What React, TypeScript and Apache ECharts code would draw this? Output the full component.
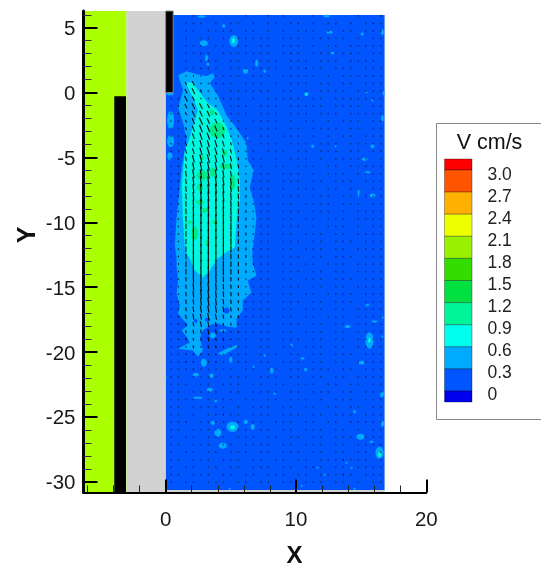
import React, { useEffect, useRef } from "react";
import * as echarts from "echarts";

// ---- axes
const X_MIN = -6.3, X_MAX = 20, Y_MIN = -30.83, Y_MAX = 6.29;
const xMajor = [0, 10, 20];
const xMinor = [-6, -4, -2, 2, 4, 6, 8, 12, 14, 16, 18];
const yMajor = [5, 0, -5, -10, -15, -20, -25, -30];
const yMinor = [6, 4, 3, 2, 1, -1, -2, -3, -4, -6, -7, -8, -9, -11, -12, -13, -14, -16, -17, -18, -19, -21, -22, -23, -24, -26, -27, -28, -29];

// ---- legend
const legendLevels = ["3.0", "2.7", "2.4", "2.1", "1.8", "1.5", "1.2", "0.9", "0.6", "0.3", "0"];
const legendColors = ["#ff0000", "#ff5500", "#ffb000", "#eeff00", "#99f000", "#33dd00", "#00e040", "#00f598", "#00ffee", "#00aaff", "#0055ff", "#0000ee"];

// ---- field regions [x0, x1, y0, y1, colour]
const FIELD: [number, number, number, number, string] = [0, 16.8, -30.63, 5.98, "#0055ff"];
const walls: [number, number, number, number, string, string][] = [
  [-6.3, -3.0, -30.83, 6.29, "#aaff00", "none"],
  [-3.0, 0, -30.83, 6.29, "#d2d2d2", "none"],
  [-3.0, 16.8, -30.83, -30.63, "#d2d2d2", "none"],
  [-3.94, -3.04, -30.83, -0.28, "#000000", "none"],
  [0, 0.58, 0, 6.29, "#000000", "#8a8a8a"],
];

// ---- contour bands (x, y)
const band06: number[][] = [
  [0.96, 1.34], [1.61, 1.65], [2.37, 1.42], [3.14, 1.27], [3.62, 1.5], [3.77, 1.19], [3.39, 0.73], [4.0, -0.2], [4.67, -1.75],
  [5.44, -2.75], [6.2, -3.91], [6.3, -5.22], [6.76, -5.99], [6.45, -7.3], [6.76, -8.31], [6.97, -9.62], [6.84, -10.86], [6.66, -12.17],
  [6.68, -13.17], [6.97, -14.1], [6.3, -14.49], [6.58, -15.41], [5.92, -16.03], [5.92, -16.8], [5.44, -17.42], [5.44, -18.12], [4.67, -18.04],
  [4.0, -17.81], [3.52, -17.88], [2.86, -18.35], [2.63, -18.96], [2.86, -19.89], [2.47, -20.35], [2.09, -19.89], [0.94, -19.74], [1.86, -19.27],
  [1.61, -18.81], [1.23, -18.35], [1.71, -17.96], [0.96, -17.03], [1.09, -16.4], [0.84, -15.49], [0.96, -14.49], [0.84, -13.48], [0.84, -12.71],
  [0.71, -11.78], [0.84, -9.62], [1.04, -7.77], [1.23, -5.76], [1.61, -3.68], [1.35, -2.36], [0.96, -1.13], [1.35, 0.19],
];
const streak06: number[][] = [[4.0, -20.11], [4.67, -19.74], [5.54, -19.43], [5.46, -19.66], [4.77, -20.04], [4.39, -20.27]];
const band09: number[][] = [
  [1.61, 0.8], [2.11, 0.73], [2.76, -0.2], [3.24, -0.82], [4.0, -1.36], [4.69, -2.67], [5.08, -3.68], [5.46, -5.22], [5.69, -6.76],
  [5.69, -8.31], [5.46, -9.62], [5.31, -11.94], [4.62, -12.32], [4.0, -12.79], [3.39, -13.72], [2.86, -14.26], [2.24, -13.72], [1.86, -12.79],
  [1.48, -12.17], [1.48, -11.94], [1.32, -9.62], [1.25, -7.0], [1.48, -4.45], [1.71, -3.91], [2.09, -2.67], [2.47, -1.36], [2.09, -0.36], [1.63, 0.57],
];
const contours: [number[][], string][] = [[band06, "#00aaff"], [streak06, "#00aaff"], [band09, "#00f8e0"]];

// ---- small closed contours [x, y, rx, ry]
const blobs06: number[][] = [
  [5.23, 3.97, 0.34, 0.46], [2.93, 3.81, 0.3, 0.23], [4.46, 5.14, 0.12, 0.12], [3.14, 2.66, 0.12, 0.25], [3.24, 2.19, 0.12, 0.12],
  [6.99, 2.27, 0.12, 0.27], [6.13, 1.65, 0.2, 0.2], [7.6, 1.65, 0.12, 0.12], [6.3, -3.52, 0.08, 0.08], [0.38, -2.13, 0.27, 0.7],
  [0.38, -3.75, 0.27, 0.46], [0.33, -4.91, 0.2, 0.31], [0.35, -0.12, 0.3, 0.08], [10.8, -0.12, 0.16, 0.16], [12.58, 4.66, 0.25, 0.1],
  [15.08, 4.51, 0.12, 0.12], [16.64, 4.66, 0.1, 0.23], [16.64, -1.98, 0.1, 0.25], [15.87, -4.14, 0.15, 0.15], [11.28, -4.14, 0.12, 0.12],
  [13.04, -4.14, 0.08, 0.08], [15.26, -5.14, 0.23, 0.12], [15.49, -6.15, 0.23, 0.08], [14.8, -7.69, 0.07, 0.38], [15.87, -7.93, 0.23, 0.15],
  [2.76, 5.86, 0.3, 0.1], [12.35, 5.9, 0.25, 0.1], [12.81, 3.04, 0.16, 0.08], [16.72, -0.05, 0.08, 0.15], [15.41, 0.03, 0.08, 0.08],
  [15.87, -0.59, 0.08, 0.08], [5.0, -20.59, 0.12, 0.23], [2.93, -20.82, 0.23, 0.31], [2.32, -21.74, 0.23, 0.15], [3.52, -21.82, 0.16, 0.16],
  [3.39, -22.9, 0.23, 0.15], [2.47, -23.52, 0.38, 0.08], [3.85, -23.75, 0.12, 0.12], [3.62, -25.45, 0.16, 0.16], [5.13, -25.77, 0.46, 0.39],
  [6.15, -25.38, 0.16, 0.16], [6.68, -25.77, 0.16, 0.23], [4.0, -26.22, 0.27, 0.31], [4.39, -27.22, 0.31, 0.23], [15.64, -19.12, 0.31, 0.62],
  [15.03, -20.82, 0.23, 0.15], [13.96, -18.04, 0.23, 0.12], [15.49, -16.4, 0.16, 0.08], [16.03, -17.65, 0.23, 0.08], [16.64, -17.34, 0.08, 0.08],
  [16.64, -18.81, 0.08, 0.08], [10.74, -21.36, 0.12, 0.12], [8.14, -21.44, 0.12, 0.23], [7.6, -20.28, 0.08, 0.08], [9.67, -19.5, 0.08, 0.15],
  [10.51, -20.5, 0.16, 0.08], [16.6, -23.28, 0.15, 0.23], [14.5, -24.6, 0.12, 0.12], [16.64, -25.53, 0.12, 0.23], [14.95, -26.53, 0.31, 0.23],
  [15.8, -26.92, 0.16, 0.08], [16.41, -27.77, 0.31, 0.46], [13.88, -28.54, 0.08, 0.08], [11.66, -28.93, 0.08, 0.08], [14.27, -28.93, 0.08, 0.08],
  [12.2, -29.46, 0.08, 0.08], [14.5, -30.55, 0.08, 0.08], [10.44, -30.31, 0.08, 0.08], [8.37, -23.21, 0.08, 0.08], [3.62, -18.73, 0.23, 0.23],
  [4.39, -18.35, 0.3, 0.08], [6.76, -21.13, 0.08, 0.08], [0.03, -21.97, 0.08, 0.08], [4.92, -30.55, 0.08, 0.08],
];
const holes03: number[][] = [[4.67, -16.8, 0.24, 0.24], [3.2, -17.5, 0.2, 0.15], [2.3, -17.6, 0.14, 0.14]];
const blobs09: number[][] = [[10.8, -0.12, 0.08, 0.08], [5.2, 4.0, 0.12, 0.2], [15.64, -19.1, 0.1, 0.2], [5.13, -25.8, 0.2, 0.15], [16.41, -27.9, 0.12, 0.2]];
const blobs12: number[][] = [
  [3.97, -2.9, 0.58, 0.6], [3.55, -1.51, 0.2, 0.25], [4.54, -4.66, 0.2, 0.25], [2.78, -4.99, 0.15, 0.2], [2.82, -6.38, 0.45, 0.38],
  [2.63, -7.3, 0.25, 0.3], [4.62, -5.68, 0.5, 0.2], [3.62, -6.15, 0.2, 0.4], [5.15, -6.92, 0.22, 0.6], [2.63, -8.46, 0.3, 0.2],
  [2.24, -10.85, 0.25, 0.55], [3.24, -11.6, 0.15, 0.25], [1.86, -10, 0.2, 0.12], [3.77, -10, 0.2, 0.15], [3.0, -9.08, 0.2, 0.2],
];
const blobSets: [number[][], string][] = [[holes03, "#0055ff"], [blobs06, "#00aaff"], [blobs09, "#00f8e0"], [blobs12, "#00eb88"]];

// ---- vector grid
const gridX = [0.41, 0.98, 1.56, 2.13, 2.71, 3.28, 3.86, 4.43, 5.01, 5.58, 6.16, 6.73, 7.31, 7.88, 8.46, 9.03, 9.61, 10.18, 10.76, 11.33, 11.91, 12.48, 13.06, 13.63, 14.21, 14.78, 15.36, 15.93, 16.51];
const gridY = [5.92, 5.34, 4.76, 4.18, 3.6, 3.02, 2.44, 1.86, 1.28, 0.7, 0.12, -0.46, -1.04, -1.62, -2.2, -2.78, -3.36, -3.94, -4.52, -5.1, -5.68, -6.26, -6.84, -7.42, -8.0, -8.58, -9.16, -9.74, -10.32, -10.9, -11.48, -12.06, -12.64, -13.22, -13.8, -14.38, -14.96, -15.54, -16.12, -16.7, -17.28, -17.86, -18.44, -19.02, -19.6, -20.18, -20.76, -21.34, -21.92, -22.5, -23.08, -23.66, -24.24, -24.82, -25.4, -25.98, -26.56, -27.14, -27.72, -28.3, -28.88, -29.46, -30.04];
// speed class per grid node; "." means nothing visible
const speeds = [
  "...0......0..0.0...0.....0..1",
  "..000.0.00.0.00.00.0.00.0.010",
  "..00.0000.00.0.0.000.0.00.000",
  "..0.00.0.00000.000.00000.0.00",
  "..000.00.00.00.000.0.00.00000",
  "..0010.0000000.010.0000010.00",
  "..0.000.00.0000.000.000.0000.",
  "..00100.0010000.00100.000.000",
  "..010.0000.000.00000.0.000010",
  "..2310000.000.0.000.00.00.000",
  "0.34200.000000.00.0.0000.0000",
  "0043100000.0.00000.00.0000000",
  "0134431.000.000.00000.0000.00",
  "0124442.000.000.000.000.00000",
  "0024543100.0000.0.00.0.000.00",
  "00245542000.000.00.0000.00.00",
  "00245543100.00.000.0.0.00.000",
  "00345554200.000.000.000.00000",
  "003456543100.000.00.000.00.00",
  "0135665542100.0.000.0.00000.0",
  "0135666543100.00.000.00.00000",
  "01466765421000.000.0.000.0000",
  "01467776542000.000.00.000.000",
  "01467776542000.0.000.00.00.00",
  "01467777542000.000.000.00.000",
  "01467776542000.00.0000.000.00",
  "01467776542000.000.000.0.0000",
  "01467776542000.00.00.000.0000",
  "01467776532000.000.0.000.0.00",
  "01467776542000.00.000.00.0000",
  "01467776532000.000.00.000.000",
  "01467766532000.00.000.00.0000",
  "01467765432000.000.00.000.000",
  "01456765432000.00.00.000.0000",
  "01466765432100.000.00.00.0000",
  "01356654321000.00.000.000.000",
  "01356654321000.000.00.00.0000",
  "01356654321100.00.00.0000.000",
  "01345654321000.000.00.000.000",
  "01345554321000.00.000.00.0000",
  "01344543221000.00.00.000.0000",
  "01234432210000.000.00.00.0000",
  "01233432110000.00.000.00.0000",
  "01222322100.00.000.00.00.0000",
  "00121221000.00.00.000.00.0000",
  "00111110000.000.00.00.000.000",
  "0011.110.00.00.000.00.00.0000",
  "000100000.00.00.00.000.00.000",
  "00.0000.000.000.00.00.00.0000",
  "000.00.000.00.00.000.00.00.00",
  "00.0000.00.0000.00.000.00.000",
  "0000.0000.00.00.000.0.000.000",
  "00.00000.0.000.00.00.00.00.00",
  "00.0.00100.000.000.00.000.000",
  "000.0010.0.00.000.00.00.00000",
  "00.00000.00.00.00.000.00.0.00",
  "0.00.000.000.00.00.00.000.000",
  "00.000.00.0000.00.000.00.0000",
  "0.00.00.000.00.000.00.00.00.0",
  "00.000.000.00.00.00.0001000.0",
  "0.00.00.00.000.00.010.00.0000",
  "00.000.00.00.000.00.00010.000",
  "0.00.000.00.00.00.000.00.0.00",
];
// lean of the arrows (dx per unit of dy) in each grid row
const rowLean = [
  0.3, 0.3, 0.3, 0.3, 0.3, 0.3, 0.3, 0.3, 0.3, 0.5, 0.5, 0.5, 0.5, 0.45, 0.45, 0.4, 0.35, 0.3, 0.3, 0.25, 0.2,
  0.15, 0.12, 0.1, 0.08, 0.05, 0.05, 0.03, 0.02, 0.02, 0, 0, 0, 0, 0.03, 0.05, 0.08, 0.1, 0.12, 0.15, 0.18, 0.2,
  0.2, 0.25, 0.25, 0.3, 0.3, 0.3, 0.3, 0.3, 0.3, 0.3, 0.3, 0.3, 0.3, 0.3, 0.3, 0.3, 0.3, 0.3, 0.3, 0.3, 0.3,
];

const FONT = '"Liberation Sans", Arial, sans-serif';

export default function App() {
  const ref = useRef<HTMLDivElement>(null);
  useEffect(() => {
    const chart = echarts.init(ref.current!, undefined, { renderer: "svg" });
    const rectItem = (r: any[], api: any) => {
      const a = api.coord([r[0], r[3]]);
      const b = api.coord([r[1], r[2]]);
      return {
        type: "rect",
        shape: { x: a[0], y: a[1], width: b[0] - a[0], height: b[1] - a[1] },
        style: { fill: r[4], stroke: r[5] === "none" || !r[5] ? undefined : r[5], lineWidth: 1 },
      };
    };
    const flatBlobs = blobSets.flatMap(([list, color]) => list.map((b) => ({ b, color })));
    const arrows: number[][] = [];
    speeds.forEach((row, r) => {
      row.split("").forEach((ch, c) => {
        if (ch !== "." && c < gridX.length) arrows.push([gridX[c], gridY[r], Number(ch), rowLean[r]]);
      });
    });
    const baseAxis = { type: "value", axisLine: { show: false, onZero: false }, splitLine: { show: false }, z: 10 };
    const series: any[] = [
      {
        type: "custom", coordinateSystem: "cartesian2d", silent: true, data: [[0, 0]], z: 1,
        renderItem: (_p: any, api: any) => rectItem(FIELD as any, api),
      },
      {
        type: "custom", coordinateSystem: "cartesian2d", silent: true, z: 1,
        data: contours.map((_, i) => [i, 0]),
        renderItem: (p: any, api: any) => ({
          type: "polygon",
          shape: { points: contours[p.dataIndex][0].map((q) => api.coord(q)) },
          style: { fill: contours[p.dataIndex][1] },
        }),
      },
      {
        type: "custom", coordinateSystem: "cartesian2d", silent: true, z: 1,
        data: flatBlobs.map((_, i) => [i, 0]),
        renderItem: (p: any, api: any) => {
          const { b, color } = flatBlobs[p.dataIndex];
          const c = api.coord([b[0], b[1]]);
          const s = api.size([b[2], b[3]]);
          return { type: "ellipse", shape: { cx: c[0], cy: c[1], rx: s[0], ry: s[1] }, style: { fill: color } };
        },
      },
      {
        type: "custom", coordinateSystem: "cartesian2d", silent: true, z: 1,
        data: arrows,
        renderItem: (p: any, api: any) => {
          const [x, y, d, lean] = arrows[p.dataIndex];
          const half = d === 0 ? 0.07 : d * 0.055;
          const a = api.coord([x - half * lean, y + half]);
          const b = api.coord([x + half * lean, y - half]);
          return {
            type: "line",
            shape: { x1: a[0], y1: a[1], x2: b[0], y2: b[1] },
            style: {
              stroke: d === 0 ? "#07255f" : "#000000",
              lineWidth: d === 0 ? 1.4 : d > 4 ? 1.2 : 1.1,
              opacity: d === 0 ? 0.7 : 0.9,
            },
          };
        },
      },
      {
        type: "custom", coordinateSystem: "cartesian2d", silent: true, z: 1,
        data: walls.map((_, i) => [i, 0]),
        renderItem: (p: any, api: any) => rectItem(walls[p.dataIndex], api),
      },
    ];
    const swatchTop = (i: number) => (i === 0 ? 159 : 170 + (i - 1) * 22.1);
    const swatchBottom = (i: number) => (i === legendColors.length - 1 ? 402 : 170 + i * 22.1);
    chart.setOption({
      animation: false,
      grid: { left: 83.5, top: 11, width: 342.8, height: 481.5, containLabel: false },
      xAxis: [
        {
          ...baseAxis, min: X_MIN, max: X_MAX, position: "bottom",
          axisLine: { show: true, onZero: false, lineStyle: { color: "#000", width: 2 } },
          axisTick: { show: true, inside: true, length: 13, customValues: xMajor, lineStyle: { color: "#000", width: 2 } },
          axisLabel: { show: true, customValues: xMajor, margin: 15, color: "#1a1a1a", fontSize: 20.5, fontFamily: FONT },
        },
        {
          ...baseAxis, min: X_MIN, max: X_MAX, position: "bottom",
          axisTick: { show: true, inside: true, length: 7, customValues: xMinor, lineStyle: { color: "#222", width: 1 } },
          axisLabel: { show: false },
        },
      ],
      yAxis: [
        {
          ...baseAxis, min: Y_MIN, max: Y_MAX, position: "left",
          axisLine: { show: true, onZero: false, lineStyle: { color: "#000", width: 3 } },
          axisTick: { show: true, inside: true, length: 14, customValues: yMajor, lineStyle: { color: "#000", width: 2 } },
          axisLabel: { show: true, customValues: yMajor, margin: 8, color: "#1a1a1a", fontSize: 20.5, fontFamily: FONT },
        },
        {
          ...baseAxis, min: Y_MIN, max: Y_MAX, position: "left",
          axisTick: { show: true, inside: true, length: 8, customValues: yMinor, lineStyle: { color: "#333", width: 1 } },
          axisLabel: { show: false },
        },
      ],
      series,
      graphic: [
        { type: "text", x: 294.5, y: 554.5, style: { text: "X", font: `bold 24px ${FONT}`, fill: "#111", textAlign: "center", textVerticalAlign: "middle" } },
        { type: "text", x: 26, y: 235, rotation: Math.PI / 2, style: { text: "Y", font: `bold 25px ${FONT}`, fill: "#111", textAlign: "center", textVerticalAlign: "middle" } },
        { type: "rect", shape: { x: 436.5, y: 123.5, width: 110, height: 296 }, style: { fill: "#fff", stroke: "#888", lineWidth: 1 } },
        { type: "text", x: 489.5, y: 142, style: { text: "V cm/s", font: `21.5px ${FONT}`, fill: "#111", textAlign: "center", textVerticalAlign: "middle" } },
        ...legendColors.map((c, i) => ({
          type: "rect",
          shape: { x: 444.5, y: swatchTop(i), width: 27.5, height: swatchBottom(i) - swatchTop(i) },
          style: { fill: c, stroke: "rgba(0,0,0,0.45)", lineWidth: 0.7 },
        })),
        ...legendLevels.map((t, i) => ({
          type: "text", x: 487.5, y: 173.5 + i * 22,
          style: { text: t, font: `17.5px ${FONT}`, fill: "#222", textAlign: "left", textVerticalAlign: "middle" },
        })),
      ],
    });
    return () => chart.dispose();
  }, []);
  return (
    <div
      ref={ref}
      style={{ position: "absolute", left: 0, top: 0, width: 541, height: 567, background: "#fff", filter: "blur(0.45px)" }}
    />
  );
}
